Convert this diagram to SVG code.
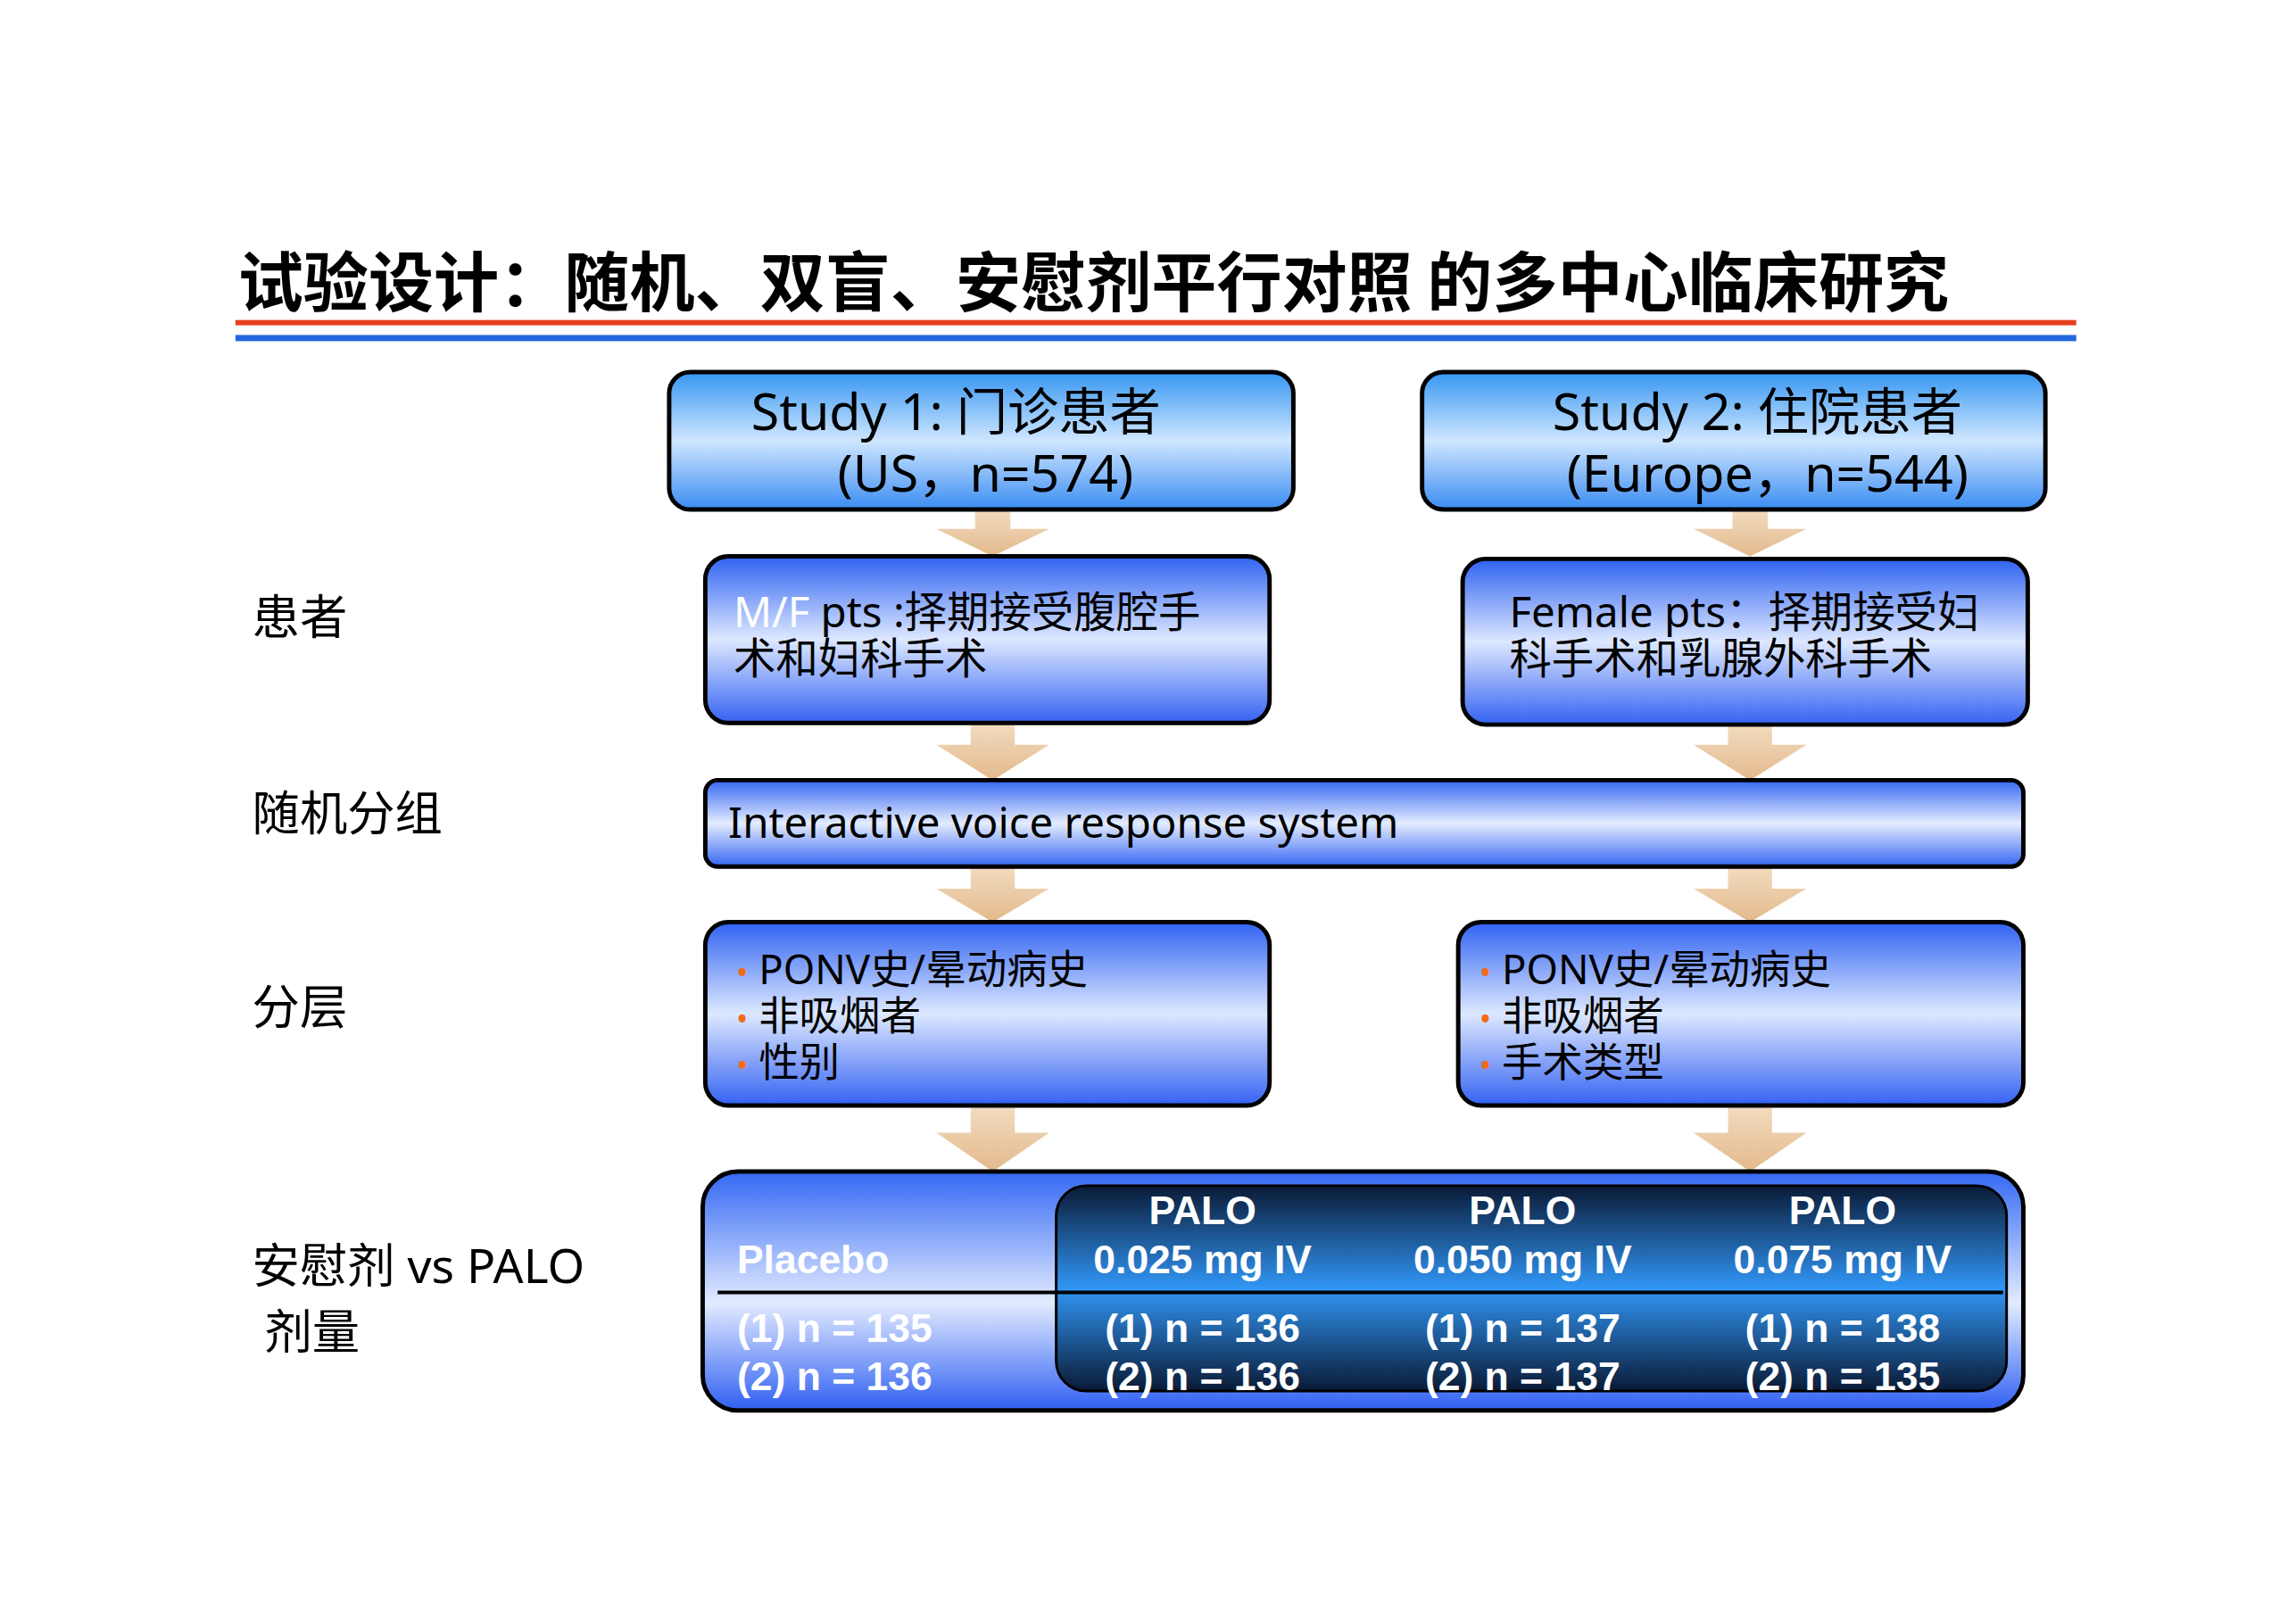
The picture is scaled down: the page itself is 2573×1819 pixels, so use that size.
<svg xmlns="http://www.w3.org/2000/svg" width="2573" height="1819" viewBox="0 0 2573 1819">
<defs>
<linearGradient id="gStudy" x1="0" y1="0" x2="0" y2="1">
<stop offset="0" stop-color="#3596f2"/><stop offset="0.5" stop-color="#cfe6ff"/><stop offset="1" stop-color="#3a8cf2"/></linearGradient>
<linearGradient id="gBox" x1="0" y1="0" x2="0" y2="1">
<stop offset="0" stop-color="#2f62f2"/><stop offset="0.5" stop-color="#dde8ff"/><stop offset="1" stop-color="#3462f2"/></linearGradient>
<linearGradient id="gBar" x1="0" y1="0" x2="0" y2="1">
<stop offset="0" stop-color="#3566f2"/><stop offset="0.5" stop-color="#e4ecff"/><stop offset="1" stop-color="#3566f2"/></linearGradient>
<linearGradient id="gOuter" x1="0" y1="0" x2="0" y2="1">
<stop offset="0" stop-color="#3468f4"/><stop offset="0.55" stop-color="#e2ebff"/><stop offset="1" stop-color="#2f5ff2"/></linearGradient>
<linearGradient id="gInner" x1="0" y1="0" x2="0" y2="1">
<stop offset="0" stop-color="#0a1a35"/><stop offset="0.5" stop-color="#3196f5"/><stop offset="1" stop-color="#0a1a35"/></linearGradient>
<linearGradient id="gArrow" x1="0" y1="0" x2="0" y2="1">
<stop offset="0" stop-color="#f2dcc0"/><stop offset="1" stop-color="#e3b98c"/></linearGradient>
</defs>
<style>
.box{stroke:#000;stroke-width:5}
.cn{font-family:"Noto Sans","Noto Sans CJK SC",sans-serif;fill:#000}
.lbl{font-family:"Noto Sans","Noto Sans CJK SC",sans-serif;font-size:54px;fill:#000}
.big{font-size:58px}
.mid{font-size:48px}
.sm{font-size:46px}
.w{font-family:"Liberation Sans Narrow","Liberation Sans",Arial,sans-serif;font-weight:bold;font-size:45px;fill:#fff}
.bul{fill:#f26a1b}
</style>
<rect width="2573" height="1819" fill="#fff"/>
<g transform="scale(0.988)">
<text x="270" y="347" font-family="'Noto Sans CJK SC',sans-serif" font-weight="bold" font-size="74" fill="#000">试验设计：随机、双盲、安慰剂平行对照 的多中心临床研究</text>
<rect x="267" y="363" width="2088" height="6" fill="#e8401c"/>
<rect x="267" y="380" width="2088" height="7" fill="#2266e0"/>

<g id="connectors">
<polygon points="1106,578 1146,578 1146,600 1190,600 1126,631 1062,600 1106,600" fill="url(#gArrow)"/>
<polygon points="1965,578 2005,578 2005,600 2049,600 1985,631 1921,600 1965,600" fill="url(#gArrow)"/>
<polygon points="1101,820 1151,820 1151,845 1190,845 1126,885 1062,845 1101,845" fill="url(#gArrow)"/>
<polygon points="1960,822 2010,822 2010,845 2049,845 1985,885 1921,845 1960,845" fill="url(#gArrow)"/>
<polygon points="1101,983 1151,983 1151,1008 1190,1008 1126,1046 1062,1008 1101,1008" fill="url(#gArrow)"/>
<polygon points="1960,983 2010,983 2010,1008 2049,1008 1985,1046 1921,1008 1960,1008" fill="url(#gArrow)"/>
<polygon points="1101,1254 1151,1254 1151,1285 1190,1285 1126,1329 1062,1285 1101,1285" fill="url(#gArrow)"/>
<polygon points="1960,1254 2010,1254 2010,1285 2049,1285 1985,1329 1921,1285 1960,1285" fill="url(#gArrow)"/>
</g>

<g id="labels">
<text class="lbl" x="286" y="720">患者</text>
<text class="lbl" x="286" y="942">随机分组</text>
<text class="lbl" x="286" y="1162">分层</text>
<text class="lbl" x="286" y="1455">安慰剂 vs PALO</text>
<text class="lbl" x="300" y="1530">剂量</text>
</g>

<g id="study1">
<rect class="box" x="759" y="422" width="708" height="156" rx="24" fill="url(#gStudy)"/>
<text class="cn big" x="852" y="488">Study 1: 门诊患者</text>
<text class="cn big" x="950" y="558">(US，n=574)</text>
</g>
<g id="study2">
<rect class="box" x="1613" y="422" width="707" height="156" rx="24" fill="url(#gStudy)"/>
<text class="cn big" x="1761" y="488">Study 2: 住院患者</text>
<text class="cn big" x="1777" y="558">(Europe，n=544)</text>
</g>

<g id="pts1">
<rect class="box" x="800" y="631" width="640" height="189" rx="26" fill="url(#gBox)"/>
<text class="cn mid" x="832" y="712"><tspan fill="#fff">M/F</tspan> pts :择期接受腹腔手</text>
<text class="cn mid" x="832" y="764">术和妇科手术</text>
</g>
<g id="pts2">
<rect class="box" x="1659" y="634" width="641" height="188" rx="26" fill="url(#gBox)"/>
<text class="cn mid" x="1712" y="712">Female pts：择期接受妇</text>
<text class="cn mid" x="1712" y="764">科手术和乳腺外科手术</text>
</g>

<g id="ivrs">
<rect class="box" x="800" y="885" width="1495" height="98" rx="14" fill="url(#gBar)"/>
<text class="cn mid" x="826" y="950">Interactive voice response system</text>
</g>

<g id="strat1">
<rect class="box" x="800" y="1046" width="640" height="208" rx="26" fill="url(#gBox)"/>
<text class="cn sm" x="835" y="1116"><tspan class="bul" font-size="36">•</tspan> PONV史/晕动病史</text>
<text class="cn sm" x="835" y="1169"><tspan class="bul" font-size="36">•</tspan> 非吸烟者</text>
<text class="cn sm" x="835" y="1222"><tspan class="bul" font-size="36">•</tspan> 性别</text>
</g>
<g id="strat2">
<rect class="box" x="1654" y="1046" width="641" height="208" rx="26" fill="url(#gBox)"/>
<text class="cn sm" x="1678" y="1116"><tspan class="bul" font-size="36">•</tspan> PONV史/晕动病史</text>
<text class="cn sm" x="1678" y="1169"><tspan class="bul" font-size="36">•</tspan> 非吸烟者</text>
<text class="cn sm" x="1678" y="1222"><tspan class="bul" font-size="36">•</tspan> 手术类型</text>
</g>

<g id="doses">
<rect class="box" x="797" y="1329" width="1498" height="271" rx="40" fill="url(#gOuter)"/>
<rect x="1198" y="1345" width="1078" height="233" rx="34" fill="url(#gInner)" stroke="#000" stroke-width="3"/>
<line x1="814" y1="1466" x2="2272" y2="1466" stroke="#000" stroke-width="4"/>
<text class="w" x="836" y="1444">Placebo</text>
<text class="w" x="836" y="1522">(1) n = 135</text>
<text class="w" x="836" y="1577">(2) n = 136</text>
<g text-anchor="middle">
<text class="w" x="1364" y="1389">PALO</text>
<text class="w" x="1364" y="1444">0.025 mg IV</text>
<text class="w" x="1364" y="1522">(1) n = 136</text>
<text class="w" x="1364" y="1577">(2) n = 136</text>
<text class="w" x="1727" y="1389">PALO</text>
<text class="w" x="1727" y="1444">0.050 mg IV</text>
<text class="w" x="1727" y="1522">(1) n = 137</text>
<text class="w" x="1727" y="1577">(2) n = 137</text>
<text class="w" x="2090" y="1389">PALO</text>
<text class="w" x="2090" y="1444">0.075 mg IV</text>
<text class="w" x="2090" y="1522">(1) n = 138</text>
<text class="w" x="2090" y="1577">(2) n = 135</text>
</g>
</g>
</g>
</svg>
